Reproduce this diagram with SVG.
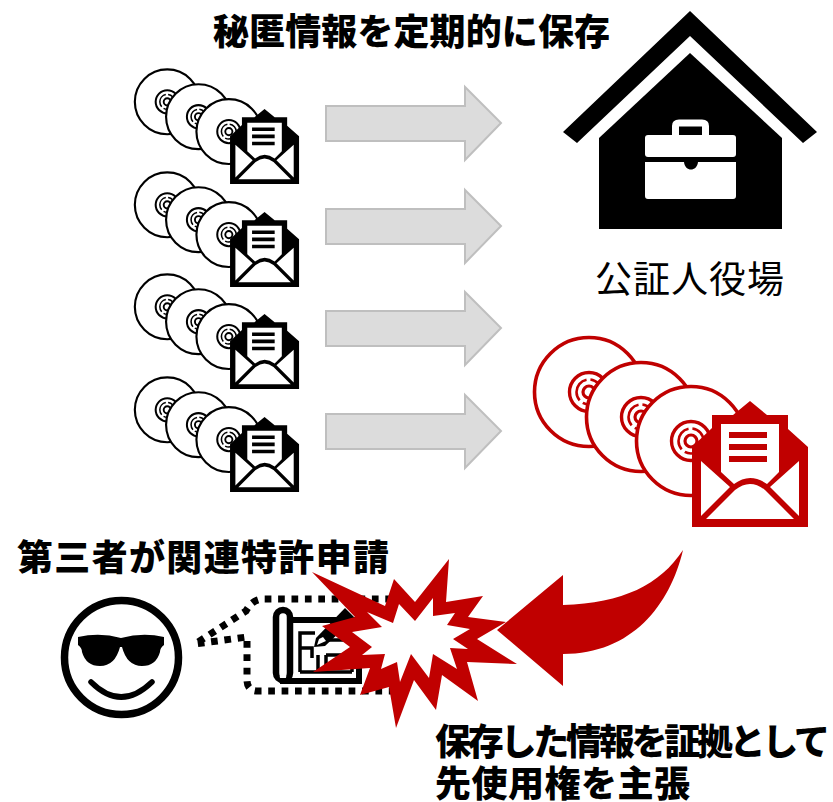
<svg xmlns="http://www.w3.org/2000/svg" width="833" height="802" viewBox="0 0 833 802">
<style>
text{font-family:"Noto Sans CJK JP","Noto Sans",sans-serif;fill:#000}
.b{font-weight:900;font-size:36px}
.arrow{fill:#dcdcdc;stroke:#bfbfbf;stroke-width:2}
.red{color:#c00000}
.blk{color:#000}
.ln{fill:none;stroke:#000;stroke-width:3.5}
</style>
<defs>
<g id="disc">
<circle r="54.5" fill="#fff" stroke="currentColor" stroke-width="3.6"/>
<circle r="19.5" fill="none" stroke="currentColor" stroke-width="3.4"/>
<circle r="12.5" fill="none" stroke="currentColor" stroke-width="2.6" stroke-dasharray="26 4"/>
<circle r="6" fill="none" stroke="currentColor" stroke-width="3.2"/>
</g>
<g id="mail">
<path fill="currentColor" d="M750 401L767 415H788V429L808 447V527H692V447L712 428V415H733Z"/>
<path fill="#fff" d="M721 424H779V472L767 484Q750 472 734 484L721 472Z"/>
<path fill="currentColor" d="M729 432H767V438H729ZM729 444H767V450H729ZM729 456H767V462H729Z"/>
<path fill="#fff" d="M701 461L730 487L701 516ZM799 461L770 487L799 516ZM706 519L735 490Q750 478 765 490L794 519Z"/>
</g>
<g id="set">
<use href="#disc" x="589" y="392"/>
<use href="#disc" x="641" y="417"/>
<use href="#disc" x="691" y="441"/>
<use href="#mail"/>
</g>
<g id="setS">
<use href="#disc" x="586.500" y="389"/>
<use href="#disc" x="639" y="414"/>
<use href="#disc" x="690" y="439"/>
<use href="#mail"/>
</g>
</defs>

<g id="connectors">
<path class="arrow" d="M326 106H465V87L501 123L465 160V141H326Z"/>
<path class="arrow" d="M326 209H465V190L501 226L465 263V244H326Z"/>
<path class="arrow" d="M326 311H465V292L501 328L465 365V346H326Z"/>
<path class="arrow" d="M326 414H465V395L501 431L465 468V449H326Z"/>
<path fill="#c00000" d="M497 630L563 575V605C623 603 660 585 683 550C670 605 632 654 563 654V686Z"/>
</g>

<g id="title"><text class="b" x="213" y="45" textLength="397" lengthAdjust="spacing">秘匿情報を定期的に保存</text></g>

<g id="set1" class="blk" transform="translate(-181.7 -129.6) scale(.595)"><use href="#setS"/></g>
<g id="set2" class="blk" transform="translate(-181.7 -26.6) scale(.595)"><use href="#setS"/></g>
<g id="set3" class="blk" transform="translate(-181.7 75.4) scale(.595)"><use href="#setS"/></g>
<g id="set4" class="blk" transform="translate(-181.7 178.4) scale(.595)"><use href="#setS"/></g>

<g id="office">
<path d="M690 11L817 132L803 143L690 36L577 143L563 132Z"/>
<path d="M690 53L782 138V229H599V138Z"/>
<rect x="645" y="135" width="91" height="22" rx="3" fill="#fff"/>
<path fill="#fff" d="M645 162H684C685 172 697 172 698 162H736V196Q736 199 733 199H648Q645 199 645 196Z"/>
<path d="M675.500 135V126Q675.500 123 679 123H702Q705.500 123 705.500 126V135" fill="none" stroke="#fff" stroke-width="7"/>
<text x="595" y="293" font-size="37" textLength="189" lengthAdjust="spacing">公証人役場</text>
</g>

<g id="evidence" class="red"><use href="#set"/></g>

<g id="applicant-label"><text class="b" x="17" y="571" textLength="372" lengthAdjust="spacing">第三者が関連特許申請</text></g>

<g id="person">
<circle cx="121.500" cy="657.500" r="57" fill="#fff" stroke="#000" stroke-width="7.500"/>
<path d="M78 637Q100 632 121 638Q143 632 164 637V645Q160 648 160 652Q156 666 142 666Q127 666 122 647H120Q115 666 100 666Q86 666 82 652Q82 648 78 645Z"/>
<path d="M91 682Q121 712 152 682" fill="none" stroke="#000" stroke-width="5.500" stroke-linecap="round"/>
</g>

<g id="patent">
<path d="M392 599H262Q252 600 246 611L195 644L247 637V680Q247 691 258 691H392" fill="none" stroke="#000" stroke-width="7" stroke-dasharray="6.700 6.700"/>
<rect x="276" y="610" width="14" height="70" rx="7" fill="#fff" stroke="#000" stroke-width="6.500"/>
<circle cx="283" cy="676" r="3.300" fill="#fff"/>
<path d="M292 620H359V681H280" fill="none" stroke="#000" stroke-width="6"/>
<path class="ln" d="M300 672V633H315M300 648H312V658M300 672H352M318 672V655M326 640H352M326 655H352V672M326 655V672"/>
<path d="M314 647L316 638L345 608L355 618L325 646Z" fill="#000"/>
<path d="M317 645L319 639L323 637L326 641Z" fill="#fff"/>
</g>

<g id="burst">
<path fill="#c00000" d="M312 572L385 606L394 579L415 602L449 559L446 602L483 596L468 617L506 622L477 639L517 664L467 662L478 701L442 675L436 710L414 680L396 728L389 687L360 695L370 668L313 672L350 647L322 626L355 617Z"/>
<path fill="#fff" d="M367 612L393 623L399 604L415 621L433 598L433 616L455 613L447 625L470 629L453 639L468 649L450 648L457 669L433 654L429 678L411 654L400 682L397 662L381 669L385 654L362 655L372 647L352 632L382 627Z"/>
</g>

<g id="claim">
<text class="b" x="435" y="755" textLength="395" lengthAdjust="spacing">保存した情報を証拠として</text>
<text class="b" x="435" y="797" textLength="255" lengthAdjust="spacing">先使用権を主張</text>
</g>
</svg>
